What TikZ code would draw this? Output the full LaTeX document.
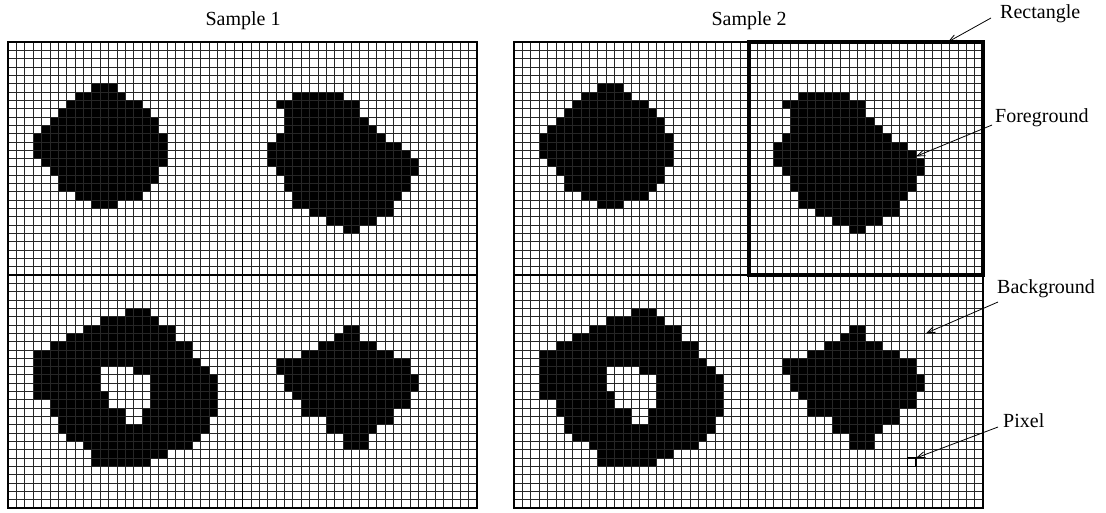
\documentclass[tikz,border=0pt]{standalone}
\usepackage{fontspec}
\setmainfont{Liberation Serif}
\usetikzlibrary{arrows.meta}

\begin{document}
\begin{tikzpicture}[
    x=1pt, y=-1pt,
    gridline/.style={line width=0.65pt, black!85},
    divider/.style={line width=1.8pt},
    frame/.style={line width=2.4pt},
    roi/.style={line width=4pt},
    annot/.style={font=\fontsize{20}{24}\selectfont, inner sep=0pt},
    pointer/.style={-{Straight Barb[length=8pt,width=6pt]}, line width=0.8pt},
]
    \useasboundingbox (0,0) rectangle (1106,512);

    % Both samples show the same binary image
    \foreach \ox in {8,514} {
      \begin{scope}[shift={(\ox,42)}, x=8.375pt, y=-8.32pt]
        % top left object (row/first col/last col)
        \foreach \r/\a/\b in {5/10/12, 6/8/13, 7/7/15, 8/6/16, 9/5/17, 10/4/17, 11/3/18, 12/3/18,
                              13/3/18, 14/4/18, 15/5/17, 16/6/17, 17/6/16, 18/8/15, 19/10/12}
          \fill (\a,\r) rectangle (\b+1,\r+1);
        % top right object
        \foreach \r/\a/\b in {6/6/11, 7/4/13, 8/5/13, 9/5/14, 10/5/15, 11/4/16, 12/3/18, 13/3/19,
                              14/3/20, 15/4/20, 16/5/19, 17/5/19, 18/6/18, 19/6/17, 20/8/17, 21/10/15, 22/12/13}
          \fill (\a+28,\r) rectangle (\b+29,\r+1);
        % bottom left object, with its hole
        \foreach \r/\a/\b in {4/14/16, 5/11/17, 6/9/19, 7/7/19, 8/5/21, 9/3/21, 10/3/22, 11/3/23,
                              12/3/24, 13/3/24, 14/3/24, 15/5/24, 16/5/24, 17/6/23, 18/6/23, 19/7/22,
                              20/9/21, 21/10/18, 22/10/16}
          \fill (\a,\r+28) rectangle (\b+1,\r+29);
        \foreach \r/\a/\b in {11/11/14, 12/11/16, 13/11/16, 14/12/16, 15/12/16, 16/14/15, 17/14/15}
          \fill[white] (\a,\r+28) rectangle (\b+1,\r+29);
        % bottom right object
        \foreach \r/\a/\b in {6/12/13, 7/11/13, 8/9/15, 9/7/17, 10/4/19, 11/4/19, 12/5/20, 13/5/20,
                              14/6/19, 15/7/19, 16/7/17, 17/10/17, 18/10/15, 19/12/14, 20/12/14}
          \fill (\a+28,\r+28) rectangle (\b+29,\r+29);

        % pixel grid
        \foreach \i in {0,...,56} {
          \draw[gridline] (\i,0) -- (\i,56);
          \draw[gridline] (0,\i) -- (56,\i);
        }
        \draw[divider] (28,0) -- (28,56) (0,28) -- (56,28);
        \draw[frame] (0,0) rectangle (56,56);
      \end{scope}
    }

    % Sample 2 marks
    \begin{scope}[shift={(514,42)}, x=8.375pt, y=-8.32pt]
      \draw[roi] (28,0) rectangle (56,28);
      \draw[line width=1.5pt] (47,50) rectangle (48,51);
      \coordinate (recttip) at (51.8,0);
      \coordinate (fgtip) at (48,13.75);
      \coordinate (bgtip) at (49.2,35);
      \coordinate (pixtip) at (48,50);
    \end{scope}

    % Titles
    \node[annot, anchor=base] (title1) at (243,25) {Sample 1};
    \node[annot, anchor=base] (title2) at (749,25) {Sample 2};

    % Callouts
    \node[annot, anchor=base west] (rectlbl) at (1000,18) {Rectangle};
    \node[annot, anchor=base west] (fglbl) at (995,122) {Foreground};
    \node[annot, anchor=base west] (bglbl) at (997,293) {Background};
    \node[annot, anchor=base west] (pixlbl) at (1003,427) {Pixel};

    \draw[pointer] ([xshift=-9pt]rectlbl.base west) -- (recttip);
    \draw[pointer] ([xshift=-3pt, yshift=-3pt]fglbl.base west) -- (fgtip);
    \draw[pointer] ([xshift=1pt, yshift=-9pt]bglbl.base west) -- (bgtip);
    \draw[pointer] ([xshift=-5pt]pixlbl.base west) -- (pixtip);
\end{tikzpicture}
\end{document}
